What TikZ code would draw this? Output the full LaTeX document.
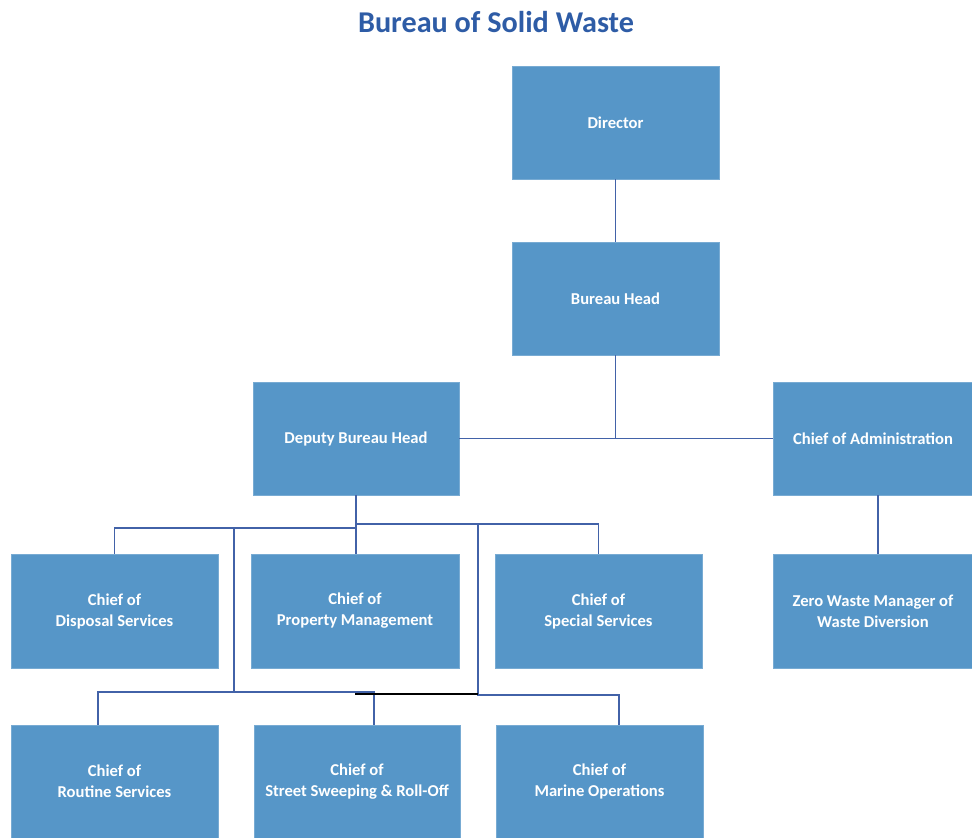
\documentclass[tikz,border=0pt]{standalone}
\usepackage{fontspec}
\setmainfont{Carlito}
\definecolor{boxblue}{RGB}{86,150,200}
\definecolor{lineblue}{RGB}{66,98,168}
\definecolor{titleblue}{RGB}{46,92,166}
\begin{document}
\begin{tikzpicture}[x=1pt,y=-1pt,
  orgbox/.style={fill=boxblue, draw=boxblue!80!white, line width=0.6pt, text=white,
    font=\fontsize{16.6}{21}\selectfont\bfseries, align=center, inner sep=0pt},
  conn/.style={draw=lineblue, line width=1.5pt}]
\useasboundingbox (0,0) rectangle (972,838);
\node[font=\fontsize{30.2}{34}\selectfont\bfseries, text=titleblue] (title) at (496,22) {Bureau of Solid Waste};

\node[orgbox, minimum width=207pt, minimum height=113pt] (dir) at (615.5,122.5) {Director};
\node[orgbox, minimum width=207pt, minimum height=113pt] (bh) at (615.5,298.5) {Bureau Head};
\node[orgbox, minimum width=206pt, minimum height=113pt] (dep) at (356,438.5) {Deputy Bureau Head};
\node[orgbox, minimum width=199pt, minimum height=113pt] (adm) at (873,438.5) {Chief of Administration};

\node[orgbox, minimum width=207pt, minimum height=114pt] (dis) at (114.5,611) {Chief of\\Disposal Services};
\node[orgbox, minimum width=208pt, minimum height=114pt] (prop) at (355,611) {Chief of\\Property Management};
\node[orgbox, minimum width=207pt, minimum height=114pt] (spec) at (598.5,611) {Chief of\\Special Services};
\node[orgbox, minimum width=199pt, minimum height=114pt] (zero) at (873,611) {Zero Waste Manager of\\Waste Diversion};

\node[orgbox, minimum width=207pt, minimum height=113pt] (rout) at (114.5,781.5) {Chief of\\Routine Services};
\node[orgbox, minimum width=206pt, minimum height=113pt] (sweep) at (357,781.5) {Chief of\\Street Sweeping \& Roll-Off};
\node[orgbox, minimum width=207pt, minimum height=113pt] (mar) at (599.5,781.5) {Chief of\\Marine Operations};

% top chain
\draw[conn] (dir.south) -- (bh.north);
\draw[conn] (bh.south) -- (bh.south |- dep.east);
\draw[conn] (dep.east) -- (adm.west);
\coordinate (zx) at (878,0);
\draw[conn] (adm.south -| zx) -- (zero.north -| zx);

% deputy bus
\coordinate (jl) at (356,528);
\coordinate (jr) at (356,524);
\coordinate (l2) at (234,528);
\coordinate (r2) at (478,524);
\draw[conn] (dep.south) -- (dep.south |- prop.north);
\draw[conn] (jl) -| (dis.north);
\draw[conn] (jr) -| (spec.north);

% lower bus
\coordinate (rx) at (98,0);
\coordinate (sx) at (374,0);
\coordinate (mx) at (619,0);
\draw[conn] (l2) |- (98,692) -- (rout.north -| rx);
\draw[conn] (l2 |- 0,692) -| (sweep.north -| sx);
\draw[conn] (r2) -- (478,695) -| (mar.north -| mx);
\draw[black, line width=1.5pt] (355,694) -- (478,694);
\end{tikzpicture}
\end{document}
